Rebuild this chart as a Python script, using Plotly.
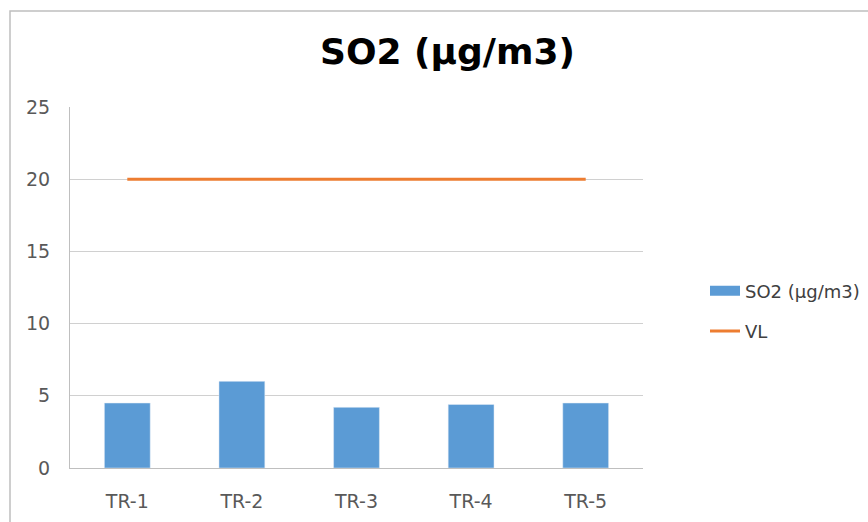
import plotly.graph_objects as go

categories = ["TR-1", "TR-2", "TR-3", "TR-4", "TR-5"]
so2_values = [4.5, 6.0, 4.2, 4.4, 4.5]
vl_values = [20, 20, 20, 20, 20]
y_ticks = [0, 5, 10, 15, 20, 25]

BLUE = "#5B9BD5"
ORANGE = "#ED7D31"
GRAY_TXT = "#595959"
FONT = "DejaVu Sans, sans-serif"

W, H = 868, 522
L, R, T, B = 70, 225, 107, 54
pw = W - L - R
ph = H - T - B

fig = go.Figure()
fig.add_trace(go.Bar(x=categories, y=so2_values, marker_color=BLUE, width=0.4,
                     showlegend=False, name="SO2 (µg/m3)"))
fig.add_trace(go.Scatter(x=[None], y=[None], mode="lines", name="SO2 (µg/m3)",
                         line=dict(color=BLUE, width=10), legendgroup="a"))
fig.add_trace(go.Scatter(x=categories, y=vl_values, mode="lines", name="VL",
                         line=dict(color=ORANGE, width=3), legendgroup="b"))

def px_x(p):
    return (p - L) / pw

def px_y(p):
    return (H - B - p) / ph

fig.update_layout(
    width=W, height=H,
    margin=dict(l=L, r=R, t=T, b=B, autoexpand=False),
    paper_bgcolor="white", plot_bgcolor="white",
    font=dict(family=FONT, size=19, color=GRAY_TXT),
    showlegend=True,
    legend=dict(x=px_x(705), y=px_y(311), xanchor="left", yanchor="middle",
                font=dict(size=18, color="#404040"), tracegroupgap=14,
                traceorder="grouped", bgcolor="rgba(0,0,0,0)"),
    xaxis=dict(showgrid=False, showline=True, linecolor="#BFBFBF", linewidth=1,
               ticks="", ticklabelstandoff=16, tickfont=dict(size=19, color=GRAY_TXT)),
    yaxis=dict(range=[0, 25], tickvals=y_ticks, showgrid=True, gridcolor="#D0D0D0",
               gridwidth=1, showline=True, linecolor="#BFBFBF", linewidth=1,
               zeroline=False, ticks="", ticklabelstandoff=15,
               tickfont=dict(size=19, color=GRAY_TXT)),
    annotations=[dict(text="<b>SO2 (µg/m3)</b>", x=px_x(447), y=px_y(52),
                      xref="paper", yref="paper", showarrow=False,
                      xanchor="center", yanchor="middle",
                      font=dict(family="DejaVu Sans, sans-serif", size=36, color="#000000"))],
    shapes=[dict(type="rect", xref="paper", yref="paper",
                 x0=px_x(10), x1=px_x(880), y0=px_y(535), y1=px_y(11),
                 line=dict(color="#BFBFBF", width=1.5), fillcolor="rgba(0,0,0,0)", layer="below")],
)

fig.write_html("out.html")
